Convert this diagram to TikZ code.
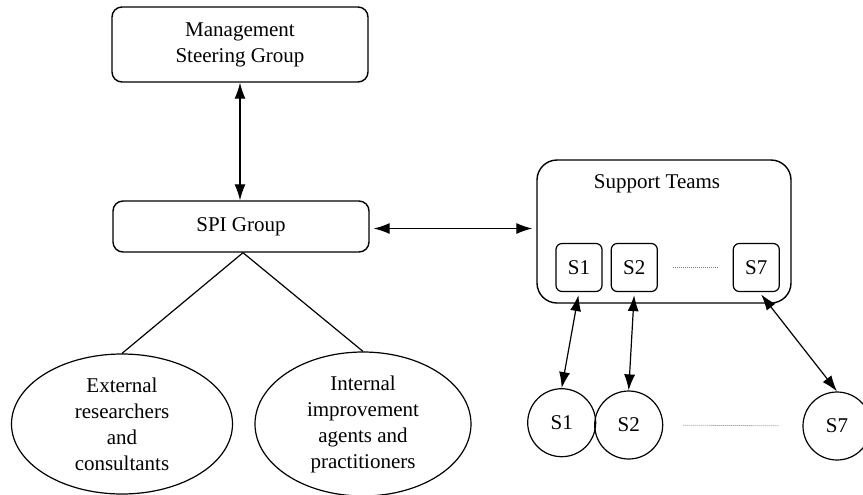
\documentclass[tikz,border=0pt]{standalone}
\usepackage{fontspec}
\setmainfont{Liberation Serif}
\usetikzlibrary{shapes.geometric,arrows.meta}
\begin{document}
\begin{tikzpicture}[x=0.5pt,y=-0.5pt,
    every node/.style={font=\fontsize{10.5}{13}\selectfont, align=center},
    group/.style={draw, rounded corners=5pt, line width=0.7pt, minimum width=128pt},
    team/.style={draw, rounded corners=10pt, line width=0.7pt, minimum width=127pt, minimum height=71.5pt},
    sbox/.style={draw, rounded corners=3pt, line width=0.6pt, minimum width=23pt, minimum height=24pt, inner sep=0pt},
    scirc/.style={draw, circle, line width=0.6pt, minimum size=34pt, inner sep=0pt},
    party/.style={draw, ellipse, line width=0.6pt, inner sep=0pt},
    link/.style={line width=0.6pt, {Latex[length=8pt,width=5.5pt]}-{Latex[length=8pt,width=5.5pt]}},
    gap/.style={gray, line width=0.4pt, dash pattern=on 0.5pt off 0.5pt}]
    \useasboundingbox (0,0) rectangle (863,494);
    \node[group, minimum height=37.5pt] (msg) at (240,44.5) {Management\\Steering Group};
    \node[group, minimum height=25.5pt] (spi) at (241,226.5) {SPI Group};
    \node[team] (sup) at (664,231.5) {};
    \node (suptitle) at (657,184) {Support Teams};
    \node[sbox] (b1) at (579,267.5) {S1};
    \node[sbox] (b2) at (634.3,267.5) {S2};
    \node[sbox] (b7) at (756.3,267.5) {S7};
    \node[scirc] (c1) at (561.7,422.7) {S1};
    \node[scirc] (c2) at (628.7,425) {S2};
    \node[scirc] (c7) at (837,426) {S7};
    \node[party, minimum width=110.5pt, minimum height=70pt] (ext) at (122,424) {External\\researchers\\and\\consultants};
    \node[party, minimum width=108pt, minimum height=72pt] (int) at (363,424) {Internal\\improvement\\agents and\\practitioners};
    \draw[link] (msg.south) -- (msg.south |- spi.north);
    \draw[link, shorten <=2pt, shorten >=2pt] ([yshift=-1pt]spi.east) -- ([yshift=-1pt]spi.east -| sup.west);
    \draw[line width=0.6pt] ([xshift=1pt]spi.south) -- (ext.north);
    \draw[line width=0.6pt] ([xshift=1pt]spi.south) -- (int.north);
    \draw[link, shorten <=1.5pt] (b1.south) -- (c1.north);
    \draw[link, shorten <=1.5pt] (b2.south) -- (c2.north);
    \draw[link, shorten <=1.5pt] ([xshift=1.5pt]b7.south) -- (c7.north);
    \draw[gap, shorten <=7.5pt, shorten >=7.5pt] (b2.east) -- (b7.west);
    \draw[gap, shorten <=10pt, shorten >=12pt] (c2.east) -- (c7.west);
\end{tikzpicture}
\end{document}
